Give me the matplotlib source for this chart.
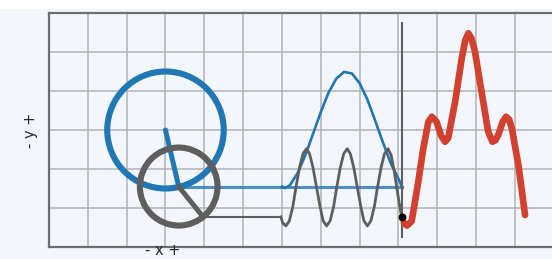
import numpy as np
import matplotlib
matplotlib.use('Agg')
import matplotlib.pyplot as plt
from matplotlib.patches import Circle, Rectangle

# --- Data (grid units) ---
# rotating circles
blue_center = (3.0, 3.0)
blue_radius = 1.5
gray_center = (3.34, 1.55)
gray_radius = 1.0
gray_tip    = (3.97, 0.77)

# connectors and "now" line
blue_level  = 1.55
gray_level  = 0.77
gray_trace_start = 5.97
now_x       = 9.08
now_y       = (0.26, 5.74)

# blue trace (history of the big circle)
blue_x = [6.00, 6.08, 6.20, 6.40, 6.60, 6.80, 7.00, 7.20, 7.40, 7.60, 7.80,
          8.00, 8.20, 8.40, 8.60, 8.80, 9.00, 9.08]
blue_y = [1.55, 1.51, 1.58, 1.89, 2.35, 2.90, 3.46, 3.96, 4.32, 4.49, 4.45,
          4.20, 3.78, 3.24, 2.68, 2.15, 1.75, 1.56]

# gray trace (history of the small circle)
gray_x = [5.97, 6.02, 6.10, 6.19, 6.28, 6.36, 6.45, 6.54, 6.63, 6.71, 6.80,
          6.89, 6.98, 7.06, 7.15, 7.24, 7.33, 7.41, 7.50, 7.59, 7.68, 7.76,
          7.85, 7.94, 8.03, 8.11, 8.20, 8.29, 8.38, 8.46, 8.55, 8.64, 8.73,
          8.81, 8.89, 8.96, 9.02, 9.08]
gray_y = [0.77, 0.62, 0.54, 0.67, 1.04, 1.53, 2.03, 2.39, 2.52, 2.39, 2.03,
          1.53, 1.04, 0.67, 0.54, 0.67, 1.04, 1.53, 2.03, 2.39, 2.52, 2.39,
          2.03, 1.53, 1.04, 0.67, 0.54, 0.67, 1.04, 1.53, 2.03, 2.39, 2.52,
          2.36, 1.95, 1.50, 1.12, 0.78]

# red sum curve
red_x = [9.14, 9.22, 9.34, 9.51, 9.64, 9.77, 9.86, 9.98, 10.10, 10.20, 10.28,
         10.46, 10.63, 10.72, 10.80, 10.88, 10.97, 11.14, 11.31, 11.42, 11.50,
         11.57, 11.68, 11.77, 11.85, 11.92, 12.09, 12.26]
red_y = [0.62, 0.55, 0.66, 1.67, 2.53, 3.21, 3.34, 3.21, 2.85, 2.70, 2.79,
         3.73, 4.84, 5.30, 5.48, 5.35, 5.01, 3.98, 2.96, 2.70, 2.74,
         2.87, 3.20, 3.34, 3.27, 3.04, 2.10, 0.82]

BLUE = '#2077b4'
GRAY = '#5e5e5e'
RED  = '#d2402f'
BG   = '#f3f7fd'

fig = plt.figure(figsize=(5.52, 2.59), dpi=100, facecolor=BG)
fig.add_artist(Rectangle((0, 1 - 9 / 259), 1, 9 / 259, transform=fig.transFigure,
                         facecolor='white', edgecolor='none', zorder=-1))

ax = fig.add_axes([49 / 552, 12 / 259, 503 / 552, 234 / 259])
ax.set_facecolor(BG)
ax.set_xlim(0, 503 / 38.83)
ax.set_ylim(0, 6)
ax.set_xticks(range(1, 13))
ax.set_yticks(range(1, 6))
ax.tick_params(length=0, labelbottom=False, labelleft=False)
ax.grid(True, color='#b2b2b2', linewidth=1.1)
ax.set_axisbelow(True)
for side in ['left', 'top', 'bottom']:
    ax.spines[side].set_color('#6e6e6e')
    ax.spines[side].set_linewidth(1.6)
ax.spines['right'].set_visible(False)

# blue circle, connector, radius
ax.add_patch(Circle(blue_center, blue_radius, fill=False, edgecolor=BLUE,
                    linewidth=4.4, zorder=3))
ax.plot([gray_center[0], now_x], [blue_level, blue_level], color=BLUE,
        alpha=0.8, linewidth=2.2, zorder=3)
ax.plot([blue_center[0], gray_center[0]], [blue_center[1], gray_center[1]],
        color=BLUE, linewidth=3.6, solid_capstyle='round', zorder=4)

# gray circle, radius, connector
ax.add_patch(Circle(gray_center, gray_radius, fill=False, edgecolor=GRAY,
                    linewidth=4.4, zorder=5))
ax.plot([gray_center[0], gray_tip[0]], [gray_center[1], gray_tip[1]],
        color=GRAY, linewidth=3.6, solid_capstyle='round', zorder=5)
ax.plot([gray_tip[0], gray_trace_start], [gray_level, gray_level], color=GRAY,
        linewidth=1.5, zorder=4)

# traces
ax.plot(blue_x, blue_y, color=BLUE, linewidth=1.9, solid_joinstyle='round', zorder=4)
ax.plot(gray_x, gray_y, color=GRAY, linewidth=2.0, solid_joinstyle='round', zorder=4)

# "now" line and marker
ax.plot([now_x, now_x], now_y, color=GRAY, linewidth=1.5, zorder=5)
ax.scatter([now_x], [gray_level], s=22, color='black', zorder=7)

# red curve
ax.plot(red_x, red_y, color=RED, linewidth=4.8, solid_capstyle='round',
        solid_joinstyle='round', zorder=6)

# axis hints
fig.text(162.5 / 552, 0.002, '- x +', ha='center', va='bottom',
         fontsize=10.5, color='#2a2a2a')
fig.text(30 / 552, (259 - 130) / 259, '- y +', ha='center', va='center',
         rotation=90, fontsize=10.5, color='#2a2a2a')

fig.savefig('out.png', dpi=100, facecolor=fig.get_facecolor())
